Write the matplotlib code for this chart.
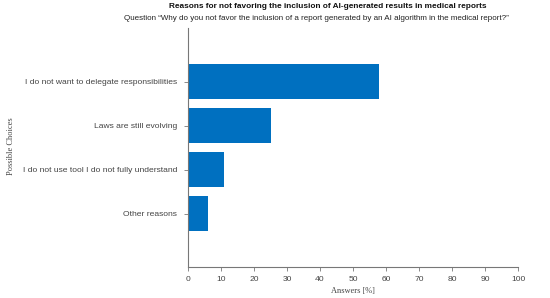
import matplotlib
matplotlib.use("Agg")
import matplotlib.pyplot as plt

categories = ["I do not want to delegate responsibilities",
              "Laws are still evolving",
              "I do not use tool I do not fully understand",
              "Other reasons"]
values = [58, 25, 11, 6]
xticks = [0, 10, 20, 30, 40, 50, 60, 70, 80, 90, 100]

fig = plt.figure(figsize=(5.5, 2.98), dpi=100)
ax = fig.add_axes([188/550, 1-266.7/298, 330/550, (266.7-28)/298])

pos = [3, 2, 1, 0]
ax.barh(pos, values, height=0.8, color="#0070c0")
ax.set_ylim(-1.2, 4.22)
ax.set_xlim(0, 100)
ax.set_xticks(xticks)
ax.set_yticks(pos)
ax.set_yticklabels(categories)

grey = "#444444"
for s in ["top", "right"]:
    ax.spines[s].set_visible(False)
for s in ["left", "bottom"]:
    ax.spines[s].set_color("#777777")
    ax.spines[s].set_linewidth(0.8)
ax.tick_params(axis="both", colors="#777777", labelcolor=grey, labelsize=6.1,
               length=3, width=0.6)
ax.tick_params(axis="y", pad=5)
ax.tick_params(axis="x", pad=3.5)
for lab in ax.get_xticklabels() + ax.get_yticklabels():
    lab.set_family("Liberation Sans")

fig.text(353/550, 1-291.5/298, "Answers [%]", family="Liberation Serif", fontsize=6.0,
         color=grey, ha="center", va="center")
fig.text(11/550, 1-146/298, "Possible Choices", rotation=90, family="Liberation Serif",
         fontsize=6.0, color=grey, ha="center", va="center")

fig.text(328/550, 1-7/298, "Reasons for not favoring the inclusion of AI-generated results in medical reports",
         family="Liberation Sans", fontweight="bold", fontsize=5.95, color="#111111",
         ha="center", va="center")
fig.text(316/550, 1-19/298, "Question \u201cWhy do you not favor the inclusion of a report generated by an AI algorithm in the medical report?\u201d",
         family="Liberation Sans", fontsize=5.75, color="#222222", ha="center", va="center")

fig.savefig("out.png", dpi=100)
